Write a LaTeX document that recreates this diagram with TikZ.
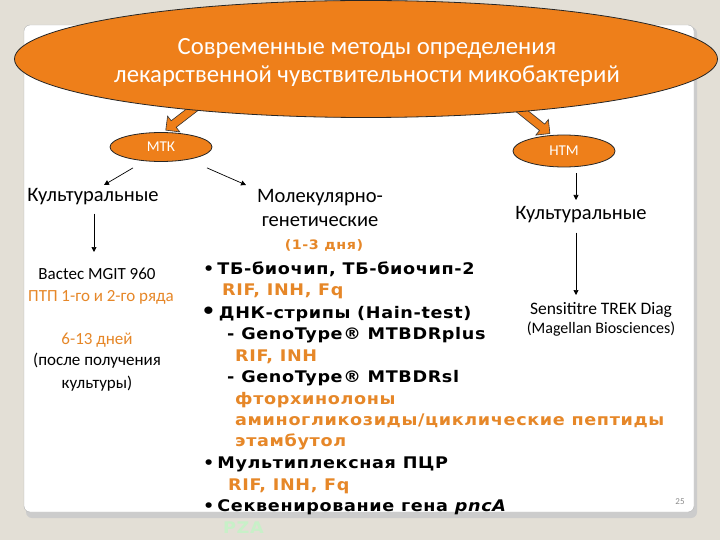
\documentclass[tikz,border=0pt]{standalone}
\usepackage{fontspec}
\setmainfont{Carlito}
\newfontfamily\vb{DejaVu Sans}[LetterSpace=4,FakeStretch=1.1]
\usetikzlibrary{shapes.geometric,shapes.arrows,arrows.meta}
\definecolor{bgc}{RGB}{227,223,214}
\definecolor{orf}{RGB}{238,127,26}
\definecolor{ort}{RGB}{230,135,40}
\definecolor{pza}{RGB}{200,240,200}
\tikzset{
  ov/.style={ellipse, fill=orf, draw=black!85, line width=0.8pt, text=white, inner sep=0pt},
  blk/.style={single arrow, fill=orf, draw=black!80, line width=0.6pt, minimum height=52pt, minimum width=20pt, single arrow head extend=4pt, inner sep=2.5pt},
  thin/.style={draw=black, line width=0.7pt, -{Triangle[length=5pt,width=5pt]}},
  cb/.style={font=\fontsize{20.5}{24}\selectfont, anchor=base, inner sep=0pt},
  cs/.style={font=\fontsize{17}{20}\selectfont, anchor=base, inner sep=0pt},
  vt/.style={font=\vb\bfseries\fontsize{16}{18}\selectfont, anchor=base west, inner sep=0pt},
  vo/.style={vt, text=ort},
}
\begin{document}
\begin{tikzpicture}[x=1pt,y=-1pt]
\useasboundingbox (0,0) rectangle (720,540);
\fill[bgc] (0,0) rectangle (720,540);
\fill[black!20, rounded corners=6pt] (26,27) rectangle (697,518);
\draw[fill=white, draw=black!30, rounded corners=6pt] (24,25) rectangle (694,512);
% block arrows
\node[blk, rotate=217.6] (la) at (188,113) {};
\node[blk, rotate=-38.7] (ra) at (528,116) {};
% big ellipse
\node[ov, minimum width=703pt, minimum height=117pt] (top) at (366,59) {};
\node[font=\fontsize{24.7}{28}\selectfont, text=white, anchor=base, inner sep=0pt] (t1) at (367,55) {Современные методы определения};
\node[font=\fontsize{24.7}{28}\selectfont, text=white, anchor=base, inner sep=0pt] (t2) at (367,83) {лекарственной чувствительности микобактерий};
% small ellipses
\node[ov, minimum width=102pt, minimum height=29pt, font=\fontsize{15}{17}\selectfont] (mtk) at (161,147) {МТК};
\node[ov, minimum width=102pt, minimum height=32pt, font=\fontsize{15}{17}\selectfont] (ntm) at (564,151) {НТМ};
% left column
\node[cb] (k1) at (93,202) {Культуральные};
\node[cs] (bac) at (97,279) {Bactec MGIT 960};
\node[cs, text=ort] (ptp) at (101,301) {ПТП 1-го и 2-го ряда};
\node[cs, text=ort] (d613) at (97,344) {6-13 дней};
\node[cs] (pp1) at (97,365) {(после получения};
\node[cs] (pp2) at (97,388) {культуры)};
% middle
\node[cb] (mg1) at (320,203) {Молекулярно-};
\node[cb] (mg2) at (320,226) {генетические};
\node[cs, text=ort, font=\vb\bfseries\fontsize{13}{15}\selectfont] (d13) at (324,249) {(1-3 дня)};
\node[vt] (b1) at (203,274) {•\hspace{3pt}ТБ-биочип, ТБ-биочип-2};
\node[vo] (b1r) at (222,295) {RIF, INH, Fq};
\node[vt] (b2) at (201,318) {{\fontsize{21}{18}\selectfont•}\hspace{3pt}ДНК-стрипы (Hain-test)};
\node[vt] (b2a) at (227,339) {- GenoType® MTBDRplus};
\node[vo] (b2ar) at (235,361) {RIF, INH};
\node[vt] (b2b) at (227,382) {- GenoType® MTBDRsl};
\node[vo] (f1) at (235,404) {фторхинолоны};
\node[vo] (f2) at (235,425) {аминогликозиды/циклические пептиды};
\node[vo] (f3) at (235,446) {этамбутол};
\node[vt] (b3) at (203,468) {•\hspace{3pt}Мультиплексная ПЦР};
\node[vo] (b3r) at (228,490) {RIF, INH, Fq};
\node[vt] (b4) at (203,511) {•\hspace{3pt}Секвенирование гена \textit{pncA}};
\node[vt, text=pza] (pz) at (223,533) {PZA};
% right column
\node[cb] (k2) at (581,219) {Культуральные};
\node[cs, font=\fontsize{17.5}{20}\selectfont] (sen) at (601,314) {Sensititre TREK Diag};
\node[cs, font=\fontsize{16}{18}\selectfont] (mag) at (601,333) {(Magellan Biosciences)};
\node[font=\fontsize{9}{10}\selectfont, text=black!45, anchor=base, inner sep=0pt] (num) at (680,504) {25};
% connectors
\coordinate (a1) at (104,185);
\coordinate (a2) at (246,185);
\coordinate (a3) at (94,252);
\coordinate (a4) at (576,200);
\coordinate (a5) at (576,295);
\draw[thin] (mtk.south) ++(-28,6) -- (a1);
\draw[thin] (mtk.south) ++(46,6) -- (a2);
\draw[thin] (k1.south) ++(1,8) -- (a3);
\draw[thin] (ntm.south) ++(12,6) -- (a4);
\draw[thin] (k2.south) ++(-5,10) -- (a5);
\end{tikzpicture}
\end{document}
